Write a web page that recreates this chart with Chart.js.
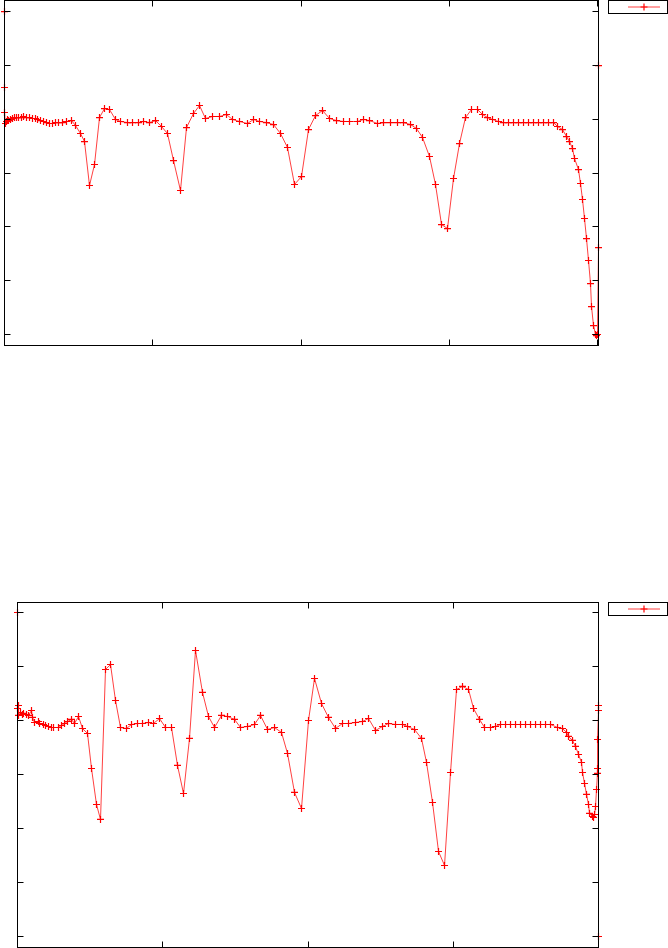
<!DOCTYPE html>
<html><head><meta charset="utf-8">
<script src="https://cdn.jsdelivr.net/npm/chart.js@4/dist/chart.umd.min.js"></script>
<style>
html,body{margin:0;padding:0;background:#fff;width:668px;height:948px;overflow:hidden}
canvas{position:absolute;left:0}
#c1{top:0}
#c2{top:595px}
</style></head><body>
<canvas id="c1" width="668" height="346"></canvas>
<canvas id="c2" width="668" height="353"></canvas>
<script>
// Tick values (labels are not rendered in the reference)
const xTicks = [0, 100, 200, 300, 400];
const yTicks = [0, 10, 20, 30, 40, 50, 60];
const legendLabel = '';

// Top chart series
const xTop = [0,0,0,0.67,1.35,2.02,2.70,4.05,5.40,6.75,8.09,9.44,11.47,12.82,14.84,16.86,18.89,20.91,22.26,24.28,
26.31,28.33,30.35,32.38,34.40,36.42,39.12,41.82,45.19,47.89,51.26,53.96,57.33,60.71,64.08,67.45,70.82,74.87,78.24,82.96,
86.34,90.38,93.76,97.80,101.85,105.90,109.94,113.99,118.71,122.76,127.48,131.53,135.57,140.30,145.02,149.74,153.79,158.51,163.90,167.95,
171.99,176.71,181.44,186.16,190.88,195.60,200.33,205.05,209.77,214.49,219.21,223.94,228.66,232.70,238.10,242.15,246.19,251.59,255.64,260.36,
265.08,269.13,273.85,277.89,281.94,286.66,290.71,294.76,298.80,302.85,306.90,310.94,314.99,319.04,322.41,325.78,329.16,333.20,
336.58,339.95,343.32,346.69,350.07,353.44,356.81,360.18,363.56,366.93,370.30,
373.00,376.37,379.07,381.09,383.12,384.47,387.16,388.51,389.86,391.21,392.56,393.91,395.26,395.93,397.28,398.63,399.30,399.98,400.65,400.65];
const yTop = [60.00,45.89,41.24,39.20,39.57,39.94,39.75,39.94,40.13,40.31,40.31,40.31,40.31,40.50,40.31,40.31,40.13,40.13,39.94,39.75,
39.57,39.38,39.20,39.20,39.38,39.38,39.38,39.57,39.75,38.83,37.34,35.85,27.68,31.58,40.31,41.98,41.80,39.94,39.57,39.38,
39.38,39.38,39.57,39.38,39.75,38.64,37.34,32.32,26.75,38.45,41.06,42.54,40.13,40.50,40.50,40.87,39.94,39.57,39.20,39.94,
39.57,39.38,39.01,37.34,34.74,27.87,29.35,38.08,40.68,41.61,40.13,39.75,39.57,39.57,39.57,39.94,39.75,39.20,39.38,39.38,
39.38,39.38,39.01,38.27,36.60,33.07,27.87,20.43,19.69,28.98,35.48,40.31,41.80,41.80,40.87,40.31,39.94,39.57,
39.38,39.38,39.38,39.38,39.38,39.38,39.38,39.38,39.38,39.38,39.38,
38.64,38.08,36.78,35.85,34.55,32.70,30.65,28.05,25.08,21.55,17.83,13.75,9.47,5.20,1.67,0,-0.19,0,16.16,49.97];

// Bottom chart series
const xBottom = [0,0,0.69,0.69,2.07,3.44,4.13,6.20,7.57,9.64,10.33,11.70,14.46,15.15,17.90,19.28,21.34,23.41,24.79,28.23,
30.29,32.36,34.43,37.18,39.24,42.00,44.75,48.20,50.95,54.39,57.15,60.59,64.03,67.47,70.92,75.05,78.49,82.62,86.06,90.19,
93.64,97.77,101.90,106.03,110.16,114.29,118.42,122.55,127.37,131.50,135.63,140.45,144.59,149.40,153.54,158.36,163.18,167.31,172.13,176.95,
181.76,185.90,190.71,195.53,200.35,204.48,209.30,214.12,218.94,223.76,227.89,232.71,237.53,241.66,246.48,251.30,255.43,260.25,265.07,268.52,
273.33,278.15,281.60,285.73,289.86,293.99,298.12,302.25,306.38,310.51,313.96,318.09,321.53,325.66,329.10,332.55,
335.99,339.43,342.87,346.32,349.76,353.21,356.65,360.09,363.53,366.97,
371.79,375.23,377.99,379.36,382.12,384.18,386.25,388.31,389.00,390.38,391.76,393.13,393.82,395.89,396.58,397.26,397.95,398.64,399.33,399.33,399.33,400,400,400];
const yBottom = [60.00,42.22,42.78,40.93,41.48,41.11,41.30,41.11,40.93,41.85,40.56,39.63,39.81,39.44,39.26,39.07,38.89,38.70,38.70,38.70,
39.07,39.44,39.81,40.19,39.44,40.74,38.52,37.59,31.11,24.44,21.67,49.44,50.37,43.70,38.70,38.52,39.26,39.44,39.44,39.63,
39.44,40.37,38.70,38.70,31.67,26.48,36.67,52.96,45.19,40.74,38.70,40.93,40.74,40.19,38.70,38.89,39.26,40.93,38.33,38.70,
37.78,33.89,26.67,23.70,40.00,47.78,43.15,40.56,38.52,39.44,39.44,39.63,39.81,40.37,38.15,38.89,39.44,39.26,39.26,38.89,
38.33,36.67,32.22,24.81,15.74,13.15,30.37,45.74,46.30,45.74,42.22,40.19,38.70,38.70,38.89,39.26,
39.26,39.26,39.26,39.26,39.26,39.26,39.26,39.26,39.26,39.26,
38.70,38.52,37.78,37.04,36.30,35.19,33.70,32.22,30.37,28.33,26.30,24.44,22.78,22.22,22.04,22.59,24.07,27.22,30.19,31.11,36.48,41.85,42.78,0];

function pts(xs, ys) { return xs.map((x, i) => ({ x: x, y: ys[i] })); }

const gnuFrame = {
  id: 'gnuFrame',
  afterDatasetsDraw(chart, args, o) {
    const { ctx, chartArea: a, scales } = chart;
    ctx.save();
    ctx.strokeStyle = '#000';
    ctx.lineWidth = 1;
    ctx.strokeRect(a.left, a.top, a.right - a.left, a.bottom - a.top);
    ctx.beginPath();
    xTicks.forEach(v => {
      const p = Math.round(scales.x.getPixelForValue(v) - 0.5) + 0.5;
      ctx.moveTo(p, a.bottom); ctx.lineTo(p, a.bottom - 6);
      ctx.moveTo(p, a.top); ctx.lineTo(p, a.top + 6);
    });
    yTicks.forEach(v => {
      const p = Math.round(scales.y.getPixelForValue(v) - 0.5) + 0.5;
      ctx.moveTo(a.left, p); ctx.lineTo(a.left + 6, p);
      ctx.moveTo(a.right, p); ctx.lineTo(a.right - 6, p);
    });
    ctx.stroke();
    // key box
    const L = o.key;
    ctx.strokeRect(L.x0, L.y0, L.x1 - L.x0, L.y1 - L.y0);
    const ym = L.ym;
    ctx.strokeStyle = 'rgba(255,0,0,0.75)';
    ctx.beginPath(); ctx.moveTo(628, ym); ctx.lineTo(660, ym); ctx.stroke();
    ctx.strokeStyle = '#ff0000';
    ctx.lineWidth = 1.2;
    ctx.beginPath(); ctx.moveTo(640.5, ym); ctx.lineTo(647.5, ym); ctx.moveTo(644, ym - 3.5); ctx.lineTo(644, ym + 3.5); ctx.stroke();
    ctx.fillStyle = '#000';
    ctx.font = '10px "DejaVu Sans"';
    ctx.textAlign = 'right'; ctx.textBaseline = 'middle';
    if (legendLabel) ctx.fillText(legendLabel, 624, ym);
    ctx.restore();
  }
};

function makeChart(id, xs, ys, xmax, ymin, ymax, pad, key) {
  new Chart(document.getElementById(id), {
    type: 'scatter',
    data: { datasets: [{
      label: legendLabel,
      data: pts(xs, ys),
      showLine: true,
      borderColor: 'rgba(255,0,0,0.75)',
      borderWidth: 1,
      tension: 0,
      pointStyle: 'cross',
      pointRadius: 3.5,
      pointBorderColor: '#ff0000',
      pointBorderWidth: 1.2,
      pointHoverRadius: 3.5,
      clip: false
    }]},
    options: {
      responsive: false,
      animation: false,
      events: [],
      layout: { padding: pad, autoPadding: false },
      plugins: { legend: { display: false }, tooltip: { enabled: false }, gnuFrame: { key: key } },
      scales: {
        x: { type: 'linear', min: 0, max: xmax, ticks: { display: false }, grid: { display: false }, border: { display: false }, afterFit(s) { s.height = 0; } },
        y: { type: 'linear', min: ymin, max: ymax, ticks: { display: false }, grid: { display: false }, border: { display: false }, afterFit(s) { s.width = 0; } }
      }
    },
    plugins: [gnuFrame]
  });
}

makeChart('c1', xTop, yTop, 400.65, -2.04, 62.05,
  { left: 4.5, right: 69.5, top: 0.5, bottom: 0.5 },
  { x0: 608.5, y0: 0.5, x1: 667.5, y1: 13.5, ym: 7 });
makeChart('c2', xBottom, yBottom, 400, -2.04, 61.85,
  { left: 17.5, right: 69.5, top: 7.5, bottom: 0.5 },
  { x0: 608.5, y0: 7.5, x1: 667.5, y1: 20.5, ym: 14 });
</script>
</body></html>
